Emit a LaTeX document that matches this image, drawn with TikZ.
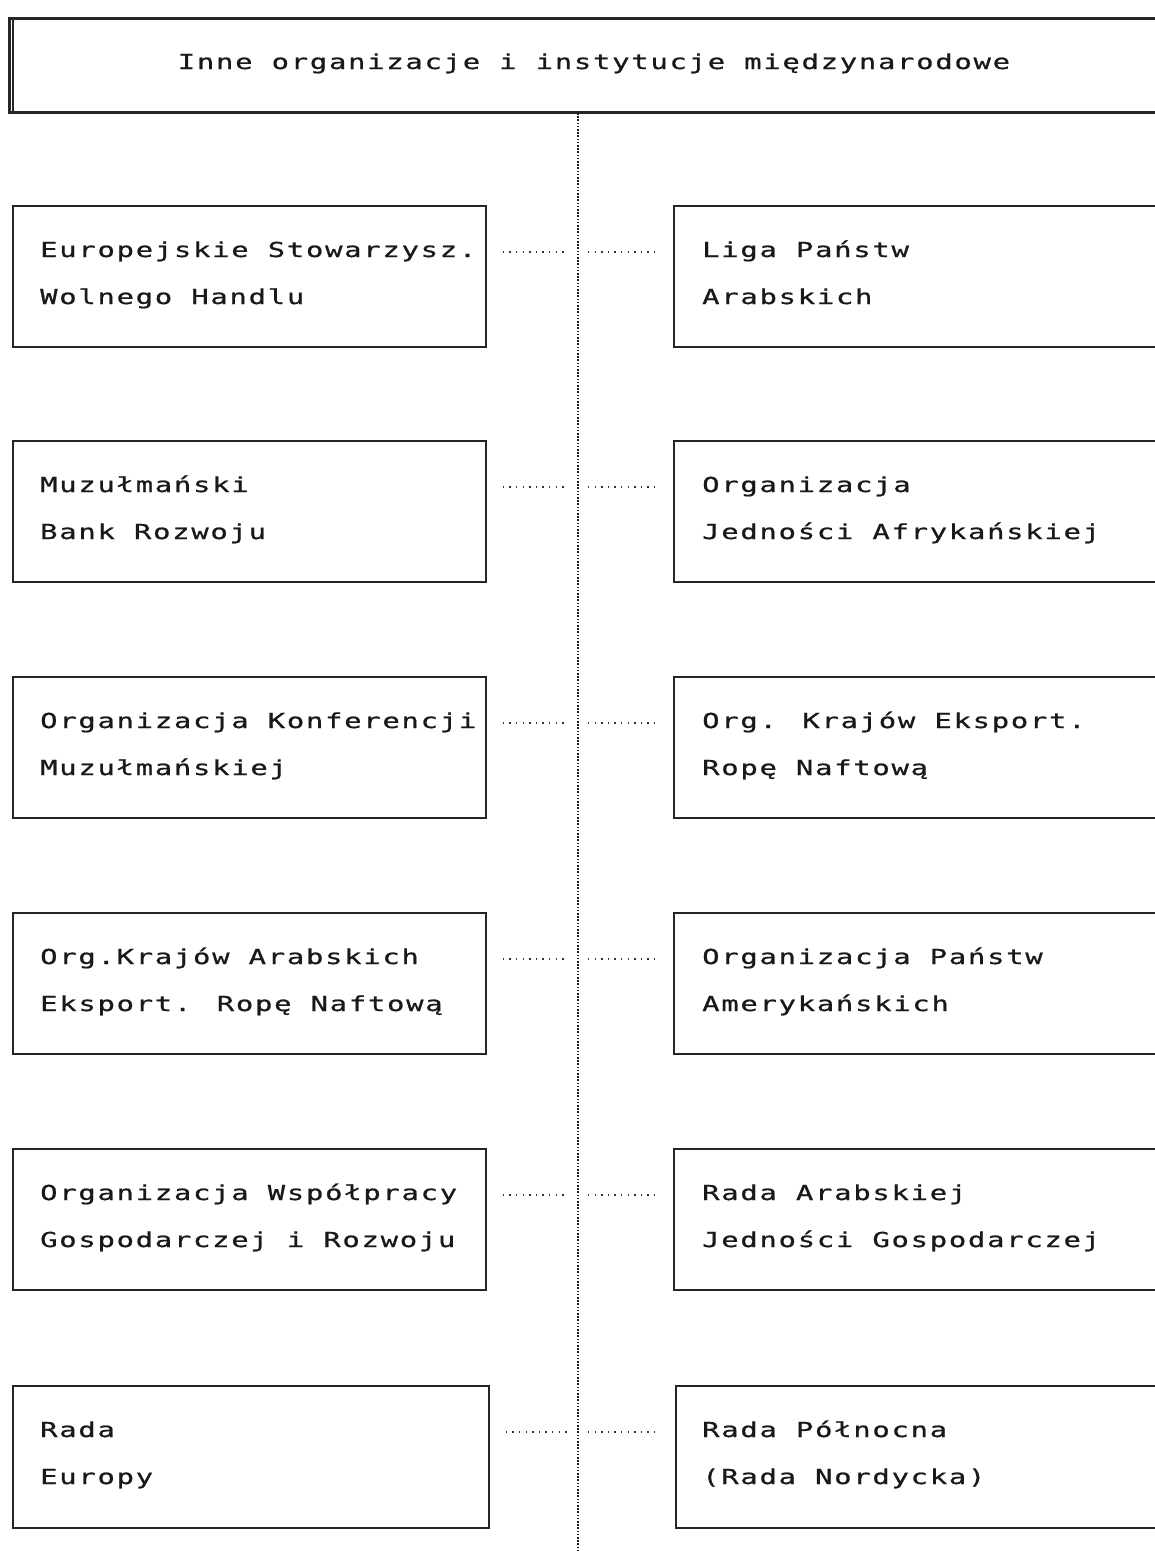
\documentclass[tikz,border=0pt]{standalone}
\usetikzlibrary{calc}
\usepackage{fontspec}
\newfontfamily\dotfont[FakeStretch=1.4,LetterSpace=8.5,FakeBold=0.8]{DejaVu Sans Mono}
\begin{document}
\begin{tikzpicture}[x=1pt,y=-1pt,
  orgbox/.style={draw=black!85,line width=1.8pt,minimum width=473pt,minimum height=141pt,inner sep=0pt,anchor=north west},
  rbox/.style={orgbox,minimum width=520pt},
  titlebox/.style={draw=black!85,line width=3pt,minimum width=1180pt,minimum height=94pt,inner sep=0pt,anchor=north west},
  txt/.style={anchor=base west,inner sep=0pt,font=\dotfont\fontsize{20.6}{47}\selectfont,text=black!90},
  ttl/.style={anchor=base,inner sep=0pt,font=\dotfont\fontsize{20.6}{47}\selectfont,text=black!90},
  vdots/.style={draw=black!90,line width=2pt,dash pattern=on 1.6pt off 1.6pt},
  hdots/.style={draw=black!80,line width=1.4pt,dash pattern=on 1.4pt off 5.2pt},
]
\useasboundingbox (0,0) rectangle (1155,1551);
\clip (0,0) rectangle (1155,1551);
\fill[white] (0,0) rectangle (1155,1551);

% title
\node[titlebox] (T) at (8,17) {};
\draw[black!85,line width=1.5pt] ([xshift=5pt]T.north west) -- ([xshift=5pt]T.south west);
\node[ttl] (Tt) at (594,69) {Inne organizacje i instytucje międzynarodowe};

% vertical dotted spine
\coordinate (vtop) at (578,113);
\coordinate (vbot) at (578,1551);
\draw[vdots] (vtop) -- (vbot);

\newcommand{\orgline}[2]{\vtop{\baselineskip=47pt\hbox{#1}\hbox{#2}}}

% left boxes
\node[orgbox] (L1) at (12,205) {};
\node[orgbox] (L2) at (12,440) {};
\node[orgbox] (L3) at (12,676) {};
\node[orgbox] (L4) at (12,912) {};
\node[orgbox] (L5) at (12,1148) {};
\node[orgbox,minimum height=142pt,minimum width=476pt] (L6) at (12,1385) {};

% right boxes
\node[rbox] (R1) at (673,205) {};
\node[rbox] (R2) at (673,440) {};
\node[rbox] (R3) at (673,676) {};
\node[rbox] (R4) at (673,912) {};
\node[rbox] (R5) at (673,1148) {};
\node[rbox,minimum height=142pt] (R6) at (675,1385) {};

% texts
\node[txt] (L1t) at ([shift={(28,52)}]L1.north west) {\orgline{Europejskie Stowarzysz.}{Wolnego Handlu}};
\node[txt] (L2t) at ([shift={(28,52)}]L2.north west) {\orgline{Muzułmański}{Bank Rozwoju}};
\node[txt] (L3t) at ([shift={(28,52)}]L3.north west) {\orgline{Organizacja Konferencji}{Muzułmańskiej}};
\node[txt] (L4t) at ([shift={(28,52)}]L4.north west) {\orgline{Org.Krajów Arabskich}{Eksport. Ropę Naftową}};
\node[txt] (L5t) at ([shift={(28,52)}]L5.north west) {\orgline{Organizacja Współpracy}{Gospodarczej i Rozwoju}};
\node[txt] (L6t) at ([shift={(28,52)}]L6.north west) {\orgline{Rada}{Europy}};

\node[txt] (R1t) at ([shift={(29,52)}]R1.north west) {\orgline{Liga Państw}{Arabskich}};
\node[txt] (R2t) at ([shift={(29,52)}]R2.north west) {\orgline{Organizacja}{Jedności Afrykańskiej}};
\node[txt] (R3t) at ([shift={(29,52)}]R3.north west) {\orgline{Org. Krajów Eksport.}{Ropę Naftową}};
\node[txt] (R4t) at ([shift={(29,52)}]R4.north west) {\orgline{Organizacja Państw}{Amerykańskich}};
\node[txt] (R5t) at ([shift={(29,52)}]R5.north west) {\orgline{Rada Arabskiej}{Jedności Gospodarczej}};
\node[txt] (R6t) at ([shift={(27,52)}]R6.north west) {\orgline{Rada Północna}{(Rada Nordycka)}};

% horizontal dotted connectors
\foreach \i in {1,...,6}{
  \coordinate (v\i) at (vtop |- {$(L\i.north)+(0,47)$});
  \draw[hdots] ([xshift=16pt]L\i.east |- v\i) -- ([xshift=-11pt]v\i);
  \draw[hdots] ([xshift=10pt]v\i) -- ([xshift=-18pt]R\i.west |- v\i);
}
\end{tikzpicture}
\end{document}
